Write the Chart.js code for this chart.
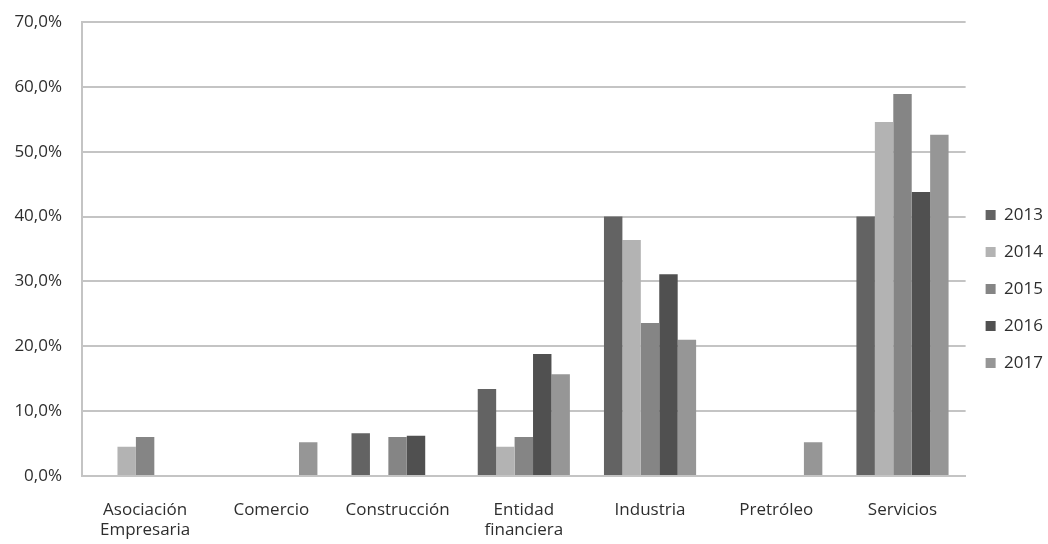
<!DOCTYPE html>
<html>
<head>
<meta charset="utf-8">
<script src="https://cdn.jsdelivr.net/npm/chart.js@4"></script>
<style>
    html, body { margin: 0; padding: 0; background: #ffffff; }
    #wrap { width: 1048px; height: 544px; position: relative; }
</style>
</head>
<body>
<div id="wrap"><canvas id="chartCanvas"></canvas></div>
<script>
// Sectors (x axis)
const categories = [
    ['Asociación', 'Empresaria'],
    'Comercio',
    'Construcción',
    ['Entidad', 'financiera'],
    'Industria',
    'Pretróleo',
    'Servicios'
];

// Share per year, in %
const years = ['2013', '2014', '2015', '2016', '2017'];
const values2013 = [0, 0, 6.6, 13.4, 40.0, 0, 40.0];
const values2014 = [4.5, 0, 0, 4.5, 36.4, 0, 54.6];
const values2015 = [6.0, 0, 6.0, 6.0, 23.6, 0, 58.9];
const values2016 = [0, 0, 6.2, 18.8, 31.1, 0, 43.8];
const values2017 = [0, 5.2, 0, 15.7, 21.0, 5.2, 52.6];

const yTicks = [0, 10, 20, 30, 40, 50, 60, 70];

const seriesValues = [values2013, values2014, values2015, values2016, values2017];
const seriesColors = ['#636363', '#b3b3b3', '#858585', '#505050', '#969696'];

const FONT = "'Open Sans', sans-serif";
const TEXT_COLOR = '#2e2e2e';

const ctx = document.getElementById('chartCanvas').getContext('2d');

new Chart(ctx, {
    type: 'bar',
    data: {
        labels: categories,
        datasets: years.map((year, i) => ({
            label: year,
            data: seriesValues[i],
            backgroundColor: seriesColors[i],
            borderWidth: 0,
            categoryPercentage: 0.73,
            barPercentage: 1.0
        }))
    },
    options: {
        responsive: true,
        maintainAspectRatio: false,
        animation: false,
        layout: {
            padding: { top: 22, right: -5, bottom: 0, left: 0 }
        },
        plugins: {
            tooltip: { enabled: false },
            legend: {
                position: 'right',
                align: 'start',
                // empty title only used to push the items down
                title: {
                    display: true,
                    text: '',
                    padding: { top: 150, bottom: 0 }
                },
                labels: {
                    boxWidth: 10,
                    boxHeight: 10,
                    padding: 20,
                    color: TEXT_COLOR,
                    font: { family: FONT, size: 17 }
                }
            }
        },
        scales: {
            x: {
                grid: { display: false, drawTicks: false },
                border: { display: true, color: '#c4c4c4', width: 2 },
                ticks: {
                    color: TEXT_COLOR,
                    font: { family: FONT, size: 17 },
                    padding: 24,
                    maxRotation: 0,
                    autoSkip: false
                },
                afterFit: function(scale) {
                    scale.height = 68;
                }
            },
            y: {
                min: 0,
                max: 70,
                afterBuildTicks: function(scale) {
                    scale.ticks = yTicks.map(v => ({ value: v }));
                },
                grid: {
                    color: '#c4c4c4',
                    lineWidth: 2,
                    drawTicks: false
                },
                border: { display: true, color: '#c4c4c4', width: 2 },
                ticks: {
                    color: TEXT_COLOR,
                    font: { family: FONT, size: 17 },
                    padding: 20,
                    callback: function(value) {
                        return value.toFixed(1).replace('.', ',') + '%';
                    }
                },
                afterFit: function(scale) {
                    scale.width = 82;
                    // tick padding should not push the plot area down
                    scale.paddingTop = 10;
                    scale.paddingBottom = 10;
                }
            }
        }
    }
});
</script>
</body>
</html>
